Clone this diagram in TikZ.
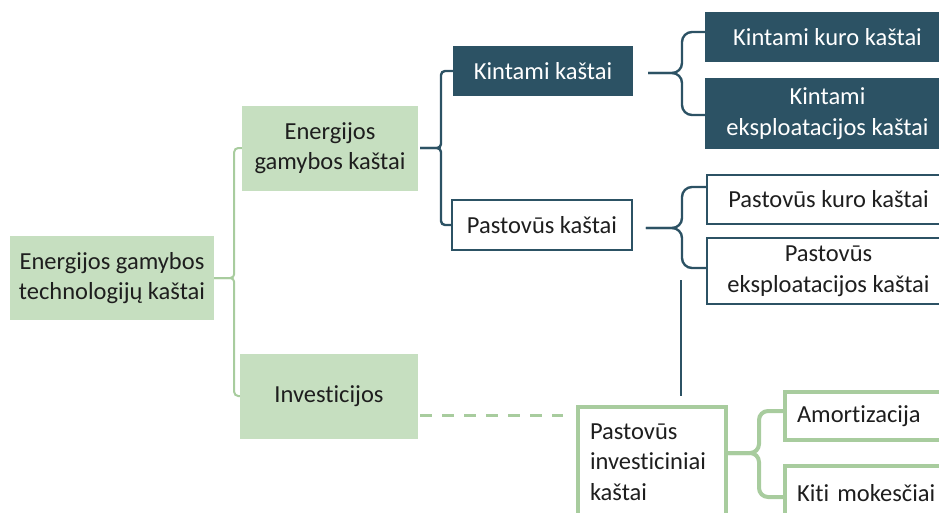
\documentclass[tikz,border=0pt]{standalone}
\usepackage{fontspec}
\setmainfont[Ligatures=NoCommon]{Carlito}
\usetikzlibrary{calc}

\definecolor{sage}{HTML}{C6DFC0}
\definecolor{sageline}{HTML}{A8CC9E}
\definecolor{teal}{HTML}{2C5264}
\definecolor{ink}{HTML}{1E1E1E}

\tikzset{
  base/.style={draw=none, inner sep=0pt, align=center, text=ink,
               font=\fontsize{24.5}{30.5}\selectfont},
  sagebox/.style={base, fill=sage},
  darkbox/.style={base, fill=teal, text=white},
  outlinebox/.style={base, draw=teal, line width=1.8pt, fill=white},
  greenbox/.style={base, draw=sageline, line width=4pt, fill=white, align=left},
  thinlink/.style={draw=sageline, line width=2pt, rounded corners=4pt},
  teallink/.style={draw=teal, line width=2.4pt, rounded corners=4pt},
  bracelink/.style={draw=teal, line width=2.4pt, rounded corners=10pt},
  greenbrace/.style={draw=sageline, line width=4pt, rounded corners=9pt},
}

\begin{document}
\begin{tikzpicture}[x=1pt, y=-1pt]
\useasboundingbox (0,0) rectangle (939,512);
\clip (0,0) rectangle (939,512);

% level 0 and 1
\node[sagebox, minimum width=204, minimum height=84] (root) at (112,278)
  {Energijos gamybos\\technologijų kaštai};
\node[sagebox, minimum width=176, minimum height=85] (egk) at (330,148)
  {Energijos\\gamybos kaštai};
\node[sagebox, minimum width=178, minimum height=85] (inv) at (329,396)
  {Investicijos};

% level 2
\node[darkbox, minimum width=180, minimum height=50] (kk) at (543,71)
  {Kintami kaštai};
\node[outlinebox, minimum width=180, minimum height=50] (pk) at (542,225)
  {Pastovūs kaštai};

% level 3, running off the right edge
\node[darkbox, minimum width=245, minimum height=50] (kkk) at (827.5,37)
  {Kintami kuro kaštai};
\node[darkbox, minimum width=245, minimum height=71] (kek) at (827.5,113.5)
  {Kintami\\eksploatacijos kaštai};
\node[outlinebox, minimum width=243, minimum height=49] (pkk) at (828.5,199.5)
  {Pastovūs kuro kaštai};
\node[outlinebox, minimum width=243, minimum height=66] (pek) at (828.5,271)
  {Pastovūs\\eksploatacijos kaštai};

% investment branch
\node[greenbox, minimum width=148, minimum height=110, text width=124] (pik) at (652,462)
  {Pastovūs\\investiciniai\\kaštai};
\node[greenbox, minimum width=174, minimum height=48, text width=150] (am) at (872,416)
  {Amortizacija};
\node[greenbox, minimum width=174, minimum height=54, text width=150] (km) at (872,493)
  {Kiti mokesčiai};

% root bracket
\draw[thinlink] (root.east) -- ++(20,0) |- (egk.west);
\draw[thinlink] (root.east) -- ++(20,0) |- (inv.west);

% bracket to variable / fixed costs
\draw[teallink] ($(egk.east)+(2,0)$) -- (441,148) |- (kk.west);
\draw[teallink] ($(egk.east)+(2,0)$) -- (441,148) |- (pk.west);

% braces to the cost items
\draw[bracelink] ($(kk.east)+(15,2)$) -- (682,73) |- ($(kkk.west)+(0,-5)$);
\draw[bracelink] ($(kk.east)+(15,2)$) -- (682,73) |- ($(kek.west)+(0,1.5)$);
\draw[bracelink] ($(pk.east)+(13,3)$) -- (682,228) |- ($(pkk.west)+(0,-12.5)$);
\draw[bracelink] ($(pk.east)+(13,3)$) -- (682,228) |- ($(pek.west)+(0,-3)$);

% vertical link down towards fixed investment costs
\coordinate (vt) at (681,280);
\draw[draw=teal, line width=2.4pt] (vt) -- ($(vt |- pik.north)+(0,-9)$);

% dashed link from investments
\draw[draw=sageline, line width=2.6pt, dash pattern=on 12pt off 10pt]
  ($(inv.east)+(2,19.5)$) -- ($(pik.west |- inv.east)+(-13,19.5)$);

% green brace to amortisation and other taxes
\draw[greenbrace] ($(pik.east)+(-4,-9)$) -- (759,453) |- ($(am.west)+(0,-5)$);
\draw[greenbrace] ($(pik.east)+(-4,-9)$) -- (759,453) |- ($(km.west)+(0,4)$);
\end{tikzpicture}
\end{document}
